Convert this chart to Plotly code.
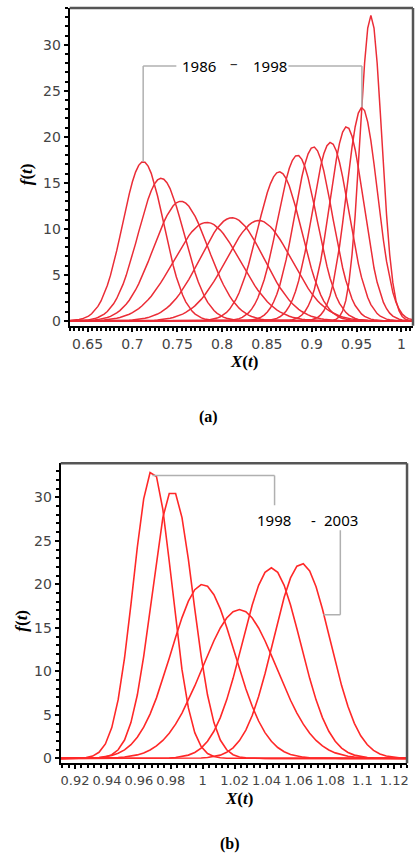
import numpy as np
import plotly.graph_objects as go

# ---- data ----
# (a) densities for 1986-1998: peak position (mean) and peak height
years_a = [str(y) for y in range(1986, 1999)]
mean_a = [0.712, 0.732, 0.754, 0.783, 0.811, 0.841, 0.864, 0.884, 0.902, 0.921, 0.939, 0.956, 0.966]
peak_a = [17.3, 15.5, 13.0, 10.7, 11.2, 10.9, 16.2, 18.0, 18.9, 19.4, 21.1, 23.2, 33.2]

# (b) densities for 1998-2003
years_b = [str(y) for y in range(1998, 2004)]
mean_b = [0.9685, 0.981, 1.000, 1.023, 1.043, 1.062]
peak_b = [33.1, 30.8, 20.0, 17.1, 21.9, 22.4]

xticks_a = [0.65, 0.7, 0.75, 0.8, 0.85, 0.9, 0.95, 1]
xticks_b = [0.92, 0.94, 0.96, 0.98, 1, 1.02, 1.04, 1.06, 1.08, 1.1, 1.12]
yticks = [0, 5, 10, 15, 20, 25, 30]

# figure slightly shorter than the window so the page never overflows
W, H = 416, 854
def py(p):  # window pixel row -> paper y
    return 1 - p / H
def px(p):
    return p / W

RANGE_A = [0.630, 1.013]
RANGE_B = [0.911, 1.128]

def density(mu, pk, lo, hi, step):
    sd = 1.0 / (pk * np.sqrt(2 * np.pi))
    x = np.arange(lo, hi + step, step)
    y = pk * np.exp(-0.5 * ((x - mu) / sd) ** 2)
    return x, y

fig = go.Figure()
col_a = "rgb(235,45,55)"
col_b = "rgb(255,40,40)"
for yr, mu, pk in zip(years_a, mean_a, peak_a):
    x, y = density(mu, pk, RANGE_A[0], RANGE_A[1], 0.0035)
    fig.add_trace(go.Scatter(x=x, y=y, mode="lines", name=yr,
                             line=dict(color=col_a, width=1.5),
                             xaxis="x", yaxis="y", showlegend=False))
for yr, mu, pk in zip(years_b, mean_b, peak_b):
    x, y = density(mu, pk, RANGE_B[0], RANGE_B[1], 0.004)
    fig.add_trace(go.Scatter(x=x, y=y, mode="lines", name=yr,
                             line=dict(color=col_b, width=1.6),
                             xaxis="x2", yaxis="y2", showlegend=False))

tickfont = dict(family="DejaVu Sans", size=14, color="#444")
common_x = dict(showline=True, linecolor="black", linewidth=2, ticks="outside",
                ticklen=4, tickwidth=2, tickcolor="black", showgrid=False,
                zeroline=False, tickfont=tickfont, tickangle=0)
common_y = dict(showline=True, linecolor="black", linewidth=2, ticks="outside",
                ticklen=4, tickwidth=2, tickcolor="black", showgrid=False,
                zeroline=False, tickfont=tickfont, tickvals=yticks,
                minor=dict(dtick=1, ticks="outside", ticklen=3, tickwidth=1.5,
                           tickcolor="black", showgrid=False))

fig.update_layout(
    width=W, height=H, margin=dict(l=0, r=0, t=0, b=0),
    paper_bgcolor="white", plot_bgcolor="white",
    xaxis=dict(common_x, domain=[px(70), px(415)], range=RANGE_A, anchor="y",
               tickvals=xticks_a, ticktext=[f"{v:g}" for v in xticks_a],
               minor=dict(dtick=0.005, tick0=0.65, ticks="outside", ticklen=3,
                          tickwidth=1.5, tickcolor="black", showgrid=False)),
    yaxis=dict(common_y, domain=[py(327), py(8)], range=[-0.54, 34.0], anchor="x"),
    xaxis2=dict(common_x, domain=[px(61), px(409)], range=RANGE_B, anchor="y2",
                tickvals=xticks_b, ticktext=[f"{v:g}" for v in xticks_b],
                tickfont=dict(tickfont, size=13),
                minor=dict(dtick=0.004, tick0=0.92, ticks="outside", ticklen=3,
                           tickwidth=1.5, tickcolor="black", showgrid=False)),
    yaxis2=dict(common_y, domain=[py(766), py(465)], range=[-0.57, 33.9], anchor="x2"),
)

# frame (top / right borders)
for xr, yr_ in (("x domain", "y domain"), ("x2 domain", "y2 domain")):
    fig.add_shape(type="line", xref=xr, yref=yr_, x0=0, x1=1, y0=1, y1=1,
                  line=dict(color="#555", width=2.5))
    fig.add_shape(type="line", xref=xr, yref=yr_, x0=1, x1=1, y0=0, y1=1,
                  line=dict(color="#555", width=2.5))

gray = dict(color="#b0b0b0", width=1.5)
lbl = dict(family="Noto Sans", size=15, color="black")
ctr = dict(xanchor="center", yanchor="middle", showarrow=False)
# leader lines (a)
lvl_a = 27.7
fig.add_shape(type="line", xref="x", yref="y", x0=mean_a[0], x1=mean_a[0], y0=peak_a[0], y1=lvl_a, line=gray)
fig.add_shape(type="line", xref="x", yref="y", x0=mean_a[0], x1=0.749, y0=lvl_a, y1=lvl_a, line=gray)
fig.add_shape(type="line", xref="x", yref="y", x0=0.874, x1=mean_a[11], y0=lvl_a, y1=lvl_a, line=gray)
fig.add_shape(type="line", xref="x", yref="y", x0=mean_a[11], x1=mean_a[11], y0=lvl_a, y1=peak_a[11], line=gray)
fig.add_annotation(x=0.774, y=lvl_a, xref="x", yref="y", text=years_a[0], font=lbl, **ctr)
fig.add_annotation(x=0.813, y=lvl_a + 0.3, xref="x", yref="y", text="–", font=dict(lbl, color="#333"), **ctr)
fig.add_annotation(x=0.854, y=lvl_a, xref="x", yref="y", text=years_a[-1], font=lbl, **ctr)

# leader lines (b)
lvl_b = 32.5
fig.add_shape(type="line", xref="x2", yref="y2", x0=mean_b[0], x1=1.045, y0=lvl_b, y1=lvl_b, line=gray)
fig.add_shape(type="line", xref="x2", yref="y2", x0=1.045, x1=1.045, y0=lvl_b, y1=29.1, line=gray)
fig.add_shape(type="line", xref="x2", yref="y2", x0=1.0862, x1=1.0862, y0=26.2, y1=16.5, line=gray)
fig.add_shape(type="line", xref="x2", yref="y2", x0=1.0862, x1=1.0756, y0=16.5, y1=16.5, line=gray)
fig.add_annotation(x=1.0447, y=27.4, xref="x2", yref="y2", text=years_b[0], font=lbl, **ctr)
fig.add_annotation(x=1.0694, y=27.4, xref="x2", yref="y2", text="-", font=lbl, **ctr)
fig.add_annotation(x=1.0865, y=27.4, xref="x2", yref="y2", text=years_b[-1], font=lbl, **ctr)

# axis titles and panel labels
ttl = dict(family="Liberation Serif", size=17, color="black")
fig.add_annotation(x=px(245), y=py(363), xref="paper", yref="paper", text="<b><i>X</i>(<i>t</i>)</b>", font=ttl, **ctr)
fig.add_annotation(x=px(27), y=py(175), xref="paper", yref="paper", text="<b><i>f</i>(<i>t</i>)</b>", font=ttl, textangle=-90, **ctr)
fig.add_annotation(x=px(240), y=py(801), xref="paper", yref="paper", text="<b><i>X</i>(<i>t</i>)</b>", font=ttl, **ctr)
fig.add_annotation(x=px(22), y=py(623), xref="paper", yref="paper", text="<b><i>f</i>(<i>t</i>)</b>", font=ttl, textangle=-90, **ctr)
cap = dict(family="Liberation Serif", size=16, color="black")
fig.add_annotation(x=px(210), y=py(418), xref="paper", yref="paper", text="<b>(a)</b>", font=cap, **ctr)
fig.add_annotation(x=px(231), y=py(847), xref="paper", yref="paper", text="<b>(b)</b>", font=cap, **ctr)

# remove the default 8px body margin so the figure fills the window
fig.write_html("out.html", config={"displayModeBar": False},
               post_script="document.body.style.margin='0px';")
